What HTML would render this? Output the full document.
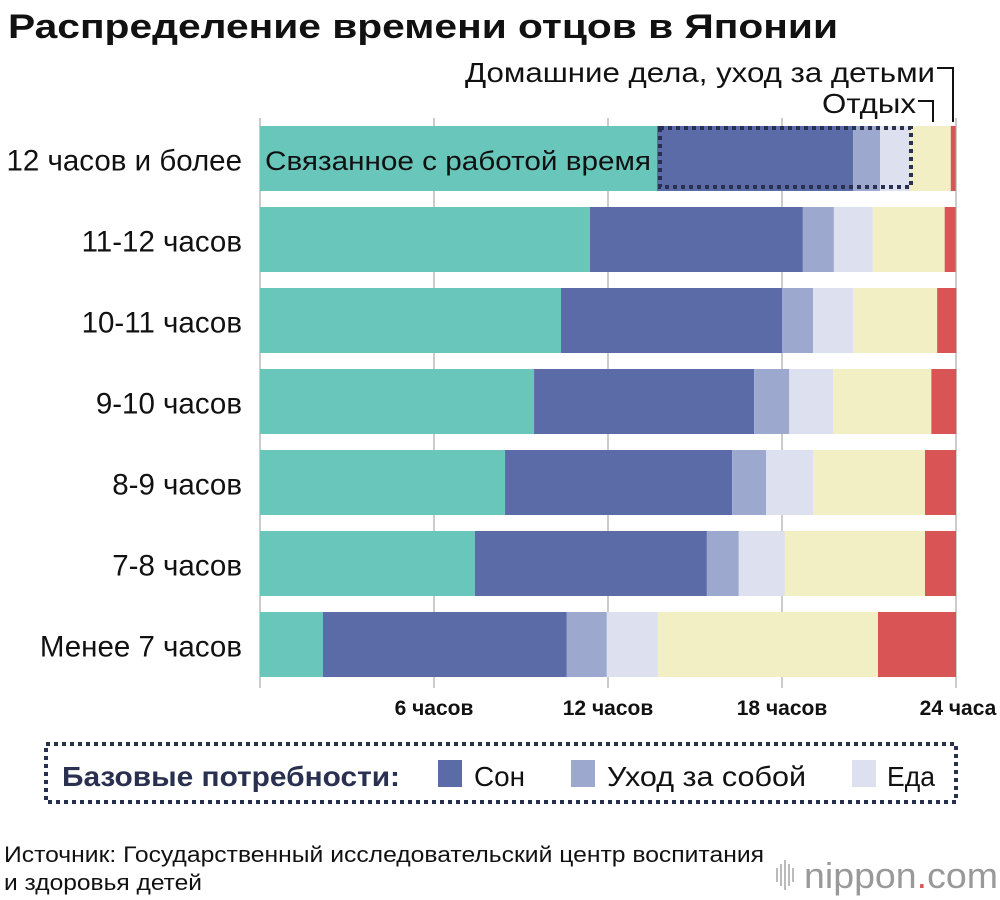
<!DOCTYPE html>
<html><head><meta charset="utf-8"><style>
body{margin:0;background:#fff;width:1000px;height:900px;overflow:hidden}
svg{display:block}
text{font-family:"Liberation Sans Narrow","Liberation Sans",sans-serif}
</style></head><body>
<svg id="c" width="1000" height="900" viewBox="0 0 1000 900">
<text x="8" y="38" font-size="34" font-weight="bold" textLength="830" lengthAdjust="spacingAndGlyphs" fill="#111">Распределение времени отцов в Японии</text>
<g id="grid"></g>
<g id="bars"></g>
<g id="ylabels"></g>
<g id="xticks"></g>
<text x="935" y="82" font-size="28" text-anchor="end" textLength="470" lengthAdjust="spacingAndGlyphs" fill="#111">Домашние дела, уход за детьми</text>
<polyline points="937,68 953,68 953,122" fill="none" stroke="#111" stroke-width="2"/>
<text x="916" y="113" font-size="28" text-anchor="end" textLength="94" lengthAdjust="spacingAndGlyphs" fill="#111">Отдых</text>
<polyline points="918,101 933,101 933,122" fill="none" stroke="#111" stroke-width="2"/>
<text x="265" y="170" font-size="27" textLength="386" lengthAdjust="spacingAndGlyphs" fill="#111">Связанное с работой время</text>
<rect x="660" y="128" width="251" height="59" fill="none" stroke="#2a3050" stroke-width="4" stroke-dasharray="4 4"/>
<g>
<rect x="46" y="744" width="910" height="58" fill="none" stroke="#2a3050" stroke-width="4" stroke-dasharray="4 4"/>
<text x="62" y="786" font-size="28" font-weight="bold" fill="#2a3050" textLength="338" lengthAdjust="spacingAndGlyphs">Базовые потребности:</text>
<rect x="438" y="760" width="24" height="27" fill="#5a6ba8"/>
<text x="474" y="786" font-size="28" fill="#111" textLength="51" lengthAdjust="spacingAndGlyphs">Сон</text>
<rect x="571" y="760" width="24" height="27" fill="#9ca8ce"/>
<text x="607" y="786" font-size="28" fill="#111" textLength="199" lengthAdjust="spacingAndGlyphs">Уход за собой</text>
<rect x="852" y="760" width="24" height="27" fill="#dde0ee"/>
<text x="887" y="786" font-size="28" fill="#111" textLength="48" lengthAdjust="spacingAndGlyphs">Еда</text>
</g>
<text x="4" y="862" font-size="22" fill="#111" textLength="760" lengthAdjust="spacingAndGlyphs">Источник: Государственный исследовательский центр воспитания</text>
<text x="4" y="890" font-size="22" fill="#111" textLength="198" lengthAdjust="spacingAndGlyphs">и здоровья детей</text>
<g>
<g fill="#bbb"><rect x="776" y="868" width="2" height="14"/><rect x="780" y="864" width="2" height="22"/><rect x="784" y="860" width="2" height="30"/><rect x="788" y="864" width="2" height="22"/><rect x="792" y="868" width="2" height="14"/></g>
<text x="804" y="888" font-size="36" fill="#999" textLength="194" lengthAdjust="spacingAndGlyphs">nippon<tspan fill="#d95555">.</tspan>com</text>
</g>
</svg>
<script>
const categories=["12 часов и более","11-12 часов","10-11 часов","9-10 часов","8-9 часов","7-8 часов","Менее 7 часов"];
const work=[13.69,11.38,10.38,9.45,8.45,7.41,2.17];
const sleep=[6.76,7.34,7.62,7.59,7.83,8.0,8.41];
const selfcare=[0.93,1.07,1.07,1.21,1.17,1.1,1.38];
const meal=[1.03,1.34,1.38,1.52,1.62,1.59,1.76];
const rest=[1.41,2.48,2.9,3.38,3.86,4.83,7.59];
const housework=[0.17,0.38,0.66,0.86,1.07,1.07,2.69];
const ticks=[0,6,12,18,24];
const tickLabels=["","6 часов","12 часов","18 часов","24 часа"];
const NS="http://www.w3.org/2000/svg";
const x=h=>260+h*29;
const yTop=i=>126+i*81;
const BH=65;
function mk(tag,attrs,parent){const e=document.createElementNS(NS,tag);for(const k in attrs)e.setAttribute(k,attrs[k]);parent.appendChild(e);return e;}
const grid=document.getElementById('grid'),bars=document.getElementById('bars'),yl=document.getElementById('ylabels'),xt=document.getElementById('xticks');
ticks.forEach((t,i)=>{
 const l=mk('line',{x1:x(t),x2:x(t),y1:118,y2:688,stroke:'#ccc','stroke-width':2},grid);
 
 
 if(tickLabels[i]){
  const tx=mk('text',{x:i===4?x(t)+2:x(t),y:715,'font-size':21,'font-weight':'bold','text-anchor':'middle',fill:'#111'},xt);
  tx.textContent=tickLabels[i];
  
  
 }
});
const series=[[work,'#69c6bb','work'],[sleep,'#5a6ba8','sleep'],[selfcare,'#9ca8ce','selfcare'],[meal,'#dde0ee','meal'],[rest,'#f2efc4','rest'],[housework,'#d95555','housework']];
categories.forEach((c,i)=>{
 let acc=0;
 series.forEach(([arr,col,nm])=>{
  const r=mk('rect',{x:x(acc),y:yTop(i),width:arr[i]*29,height:BH,fill:col},bars);
  
  
  acc+=arr[i];
 });
 const t=mk('text',{x:242,y:yTop(i)+BH/2+12,'font-size':29.5,'text-anchor':'end',fill:'#111'},yl);
 t.textContent=c;
 
 
});
</script>
</body></html>
